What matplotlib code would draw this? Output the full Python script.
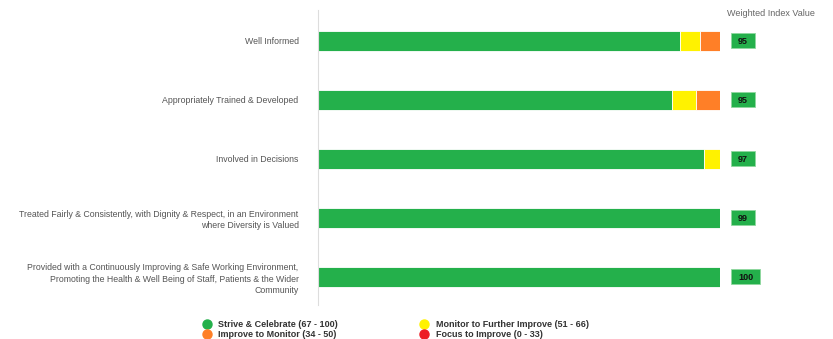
import matplotlib.pyplot as plt
from matplotlib.lines import Line2D
from matplotlib.patches import Rectangle
from matplotlib.transforms import blended_transform_factory

plt.rcParams['font.family'] = ['Liberation Sans', 'DejaVu Sans']

# categories, top to bottom
categories = [
    'Well Informed',
    'Appropriately Trained & Developed',
    'Involved in Decisions',
    'Treated Fairly & Consistently, with Dignity & Respect, in an Environment\nwhere Diversity is Valued',
    'Provided with a Continuously Improving & Safe Working Environment,\nPromoting the Health & Well Being of Staff, Patients & the Wider\nCommunity',
]
# percentage in each band
strive = [90, 88, 96, 100, 100]
monitor_further = [5, 6, 4, 0, 0]
improve_monitor = [5, 6, 0, 0, 0]
focus = [0, 0, 0, 0, 0]
index_values = [95, 95, 97, 99, 100]

band_names = ['Strive & Celebrate (67 - 100)', 'Improve to Monitor (34 - 50)',
              'Monitor to Further Improve (51 - 66)', 'Focus to Improve (0 - 33)']
GREEN, YELLOW, ORANGE, RED = '#24B04B', '#FFF200', '#FF7F27', '#ED1C24'

fig = plt.figure(figsize=(8.33, 3.39), dpi=100)
ax = fig.add_axes([318 / 833, 1 - 305 / 339, 402 / 833, 295 / 339])

y = list(range(len(categories)))
h = 0.34
left = [0] * len(y)
for vals, col in [(strive, GREEN), (monitor_further, YELLOW),
                  (improve_monitor, ORANGE), (focus, RED)]:
    ax.barh(y, vals, left=left, height=h, color=col, edgecolor='white', linewidth=0.6)
    left = [a + b for a, b in zip(left, vals)]

ax.set_xlim(0, 100)
ax.set_ylim(4.475, -0.525)
ax.set_yticks(y)
ax.set_yticklabels(categories, fontsize=6.3, color='#555555', linespacing=1.3)
ax.tick_params(axis='y', length=0, pad=14)
ax.set_xticks([])
for s in ['top', 'right', 'bottom']:
    ax.spines[s].set_visible(False)
ax.spines['left'].set_color('#dddddd')
ax.spines['left'].set_linewidth(0.8)

# value boxes to the right of the bars
tr = blended_transform_factory(ax.transAxes, ax.transData)
for yi, v in zip(y, index_values):
    w = (24 if v < 100 else 29) / 402
    bh = 15 / 59
    ax.add_patch(Rectangle((413 / 402, yi - bh / 2), w, bh, transform=tr, clip_on=False,
                           facecolor=GREEN, edgecolor='#8fd89f', linewidth=0.6))
    ax.text(413 / 402 + w / 2, yi, str(v), transform=tr, ha='center', va='center_baseline',
            fontsize=6.5, fontweight='bold', color='#111111', clip_on=False)

fig.text(727 / 833, 1 - 14 / 339, 'Weighted Index Value', fontsize=6.5, color='#666666',
         ha='left', va='center')

handles = [Line2D([], [], marker='o', linestyle='', markersize=6.5, color=c)
           for c in [GREEN, ORANGE, YELLOW, RED]]
fig.legend(handles, band_names, ncol=2, loc='upper left',
           bbox_to_anchor=(202 / 833, 1 - 320 / 339), frameon=False,
           prop={'size': 6.5, 'weight': 'bold'}, labelcolor='#333333',
           handletextpad=0.8, handlelength=1.0, columnspacing=9.0,
           labelspacing=0.15, borderpad=0, borderaxespad=0)

fig.savefig('out.png', dpi=100)
